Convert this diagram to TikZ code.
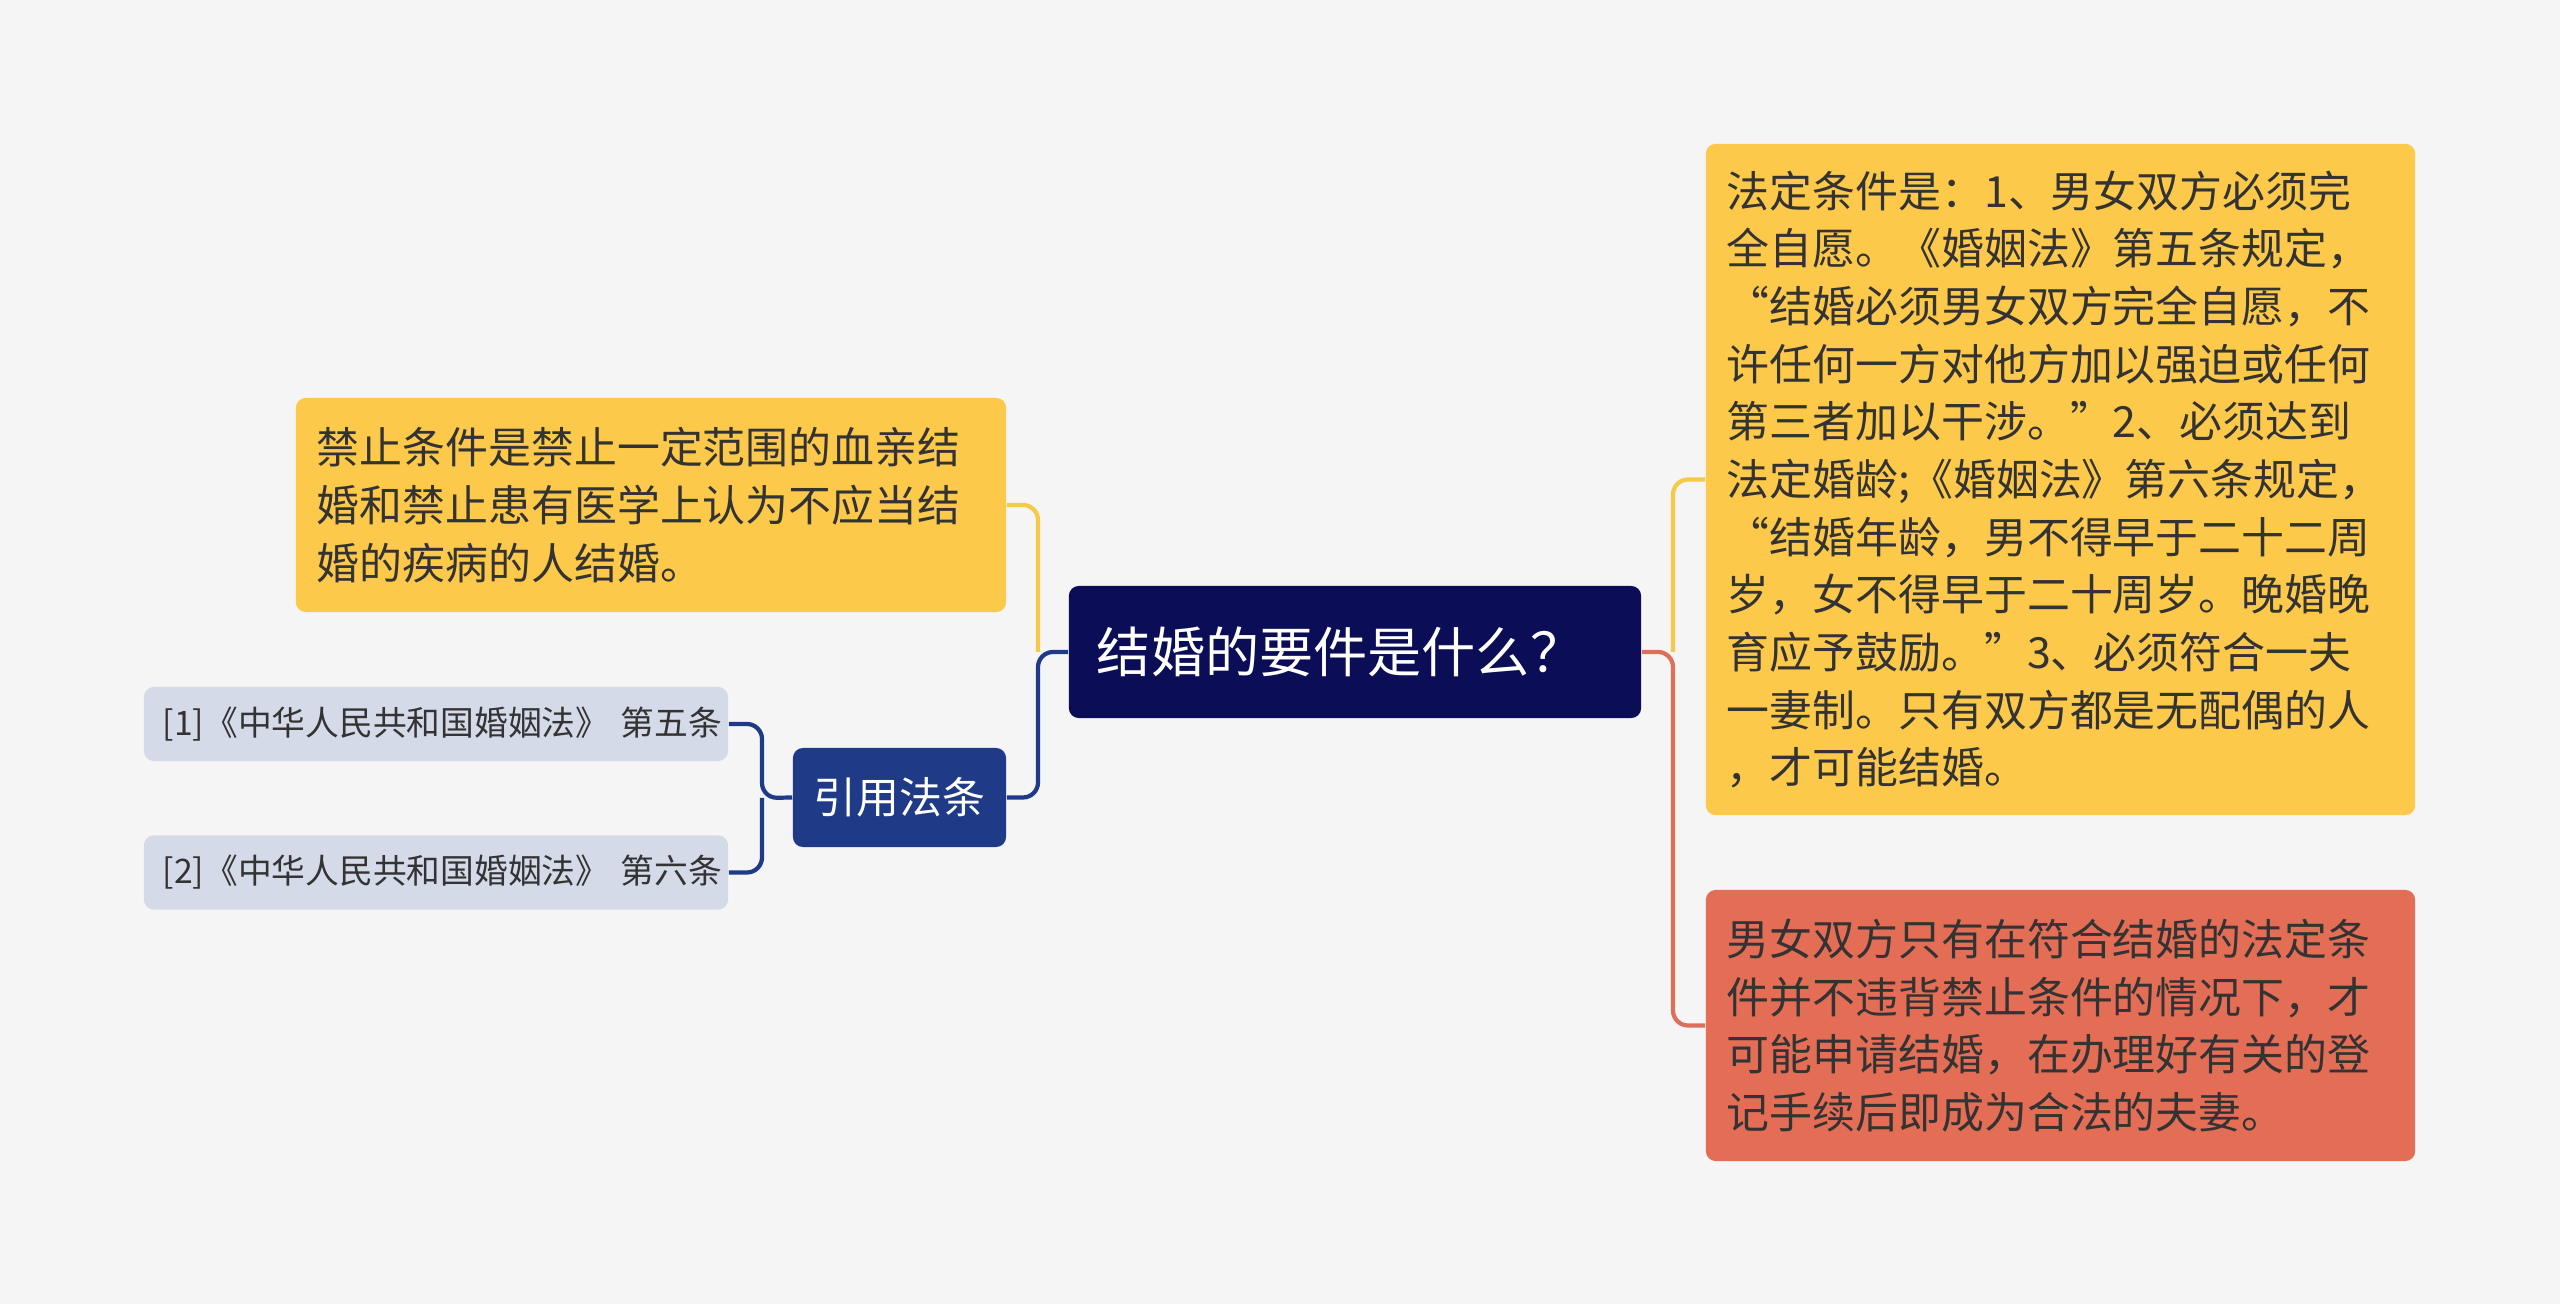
\documentclass[tikz,border=0pt]{standalone}
\usepackage{fontspec}
\setmainfont{Noto Sans CJK SC}
\usepackage{xcolor}
\usetikzlibrary{positioning,calc}

\definecolor{bgcol}{HTML}{F5F5F5}
\definecolor{rootcol}{HTML}{0B0E56}
\definecolor{yellowcol}{HTML}{FDC94B}
\definecolor{yellowline}{HTML}{F7C948}
\definecolor{navycol}{HTML}{1F3B88}
\definecolor{leafcol}{HTML}{D5DAE9}
\definecolor{redcol}{HTML}{E46D56}
\definecolor{redline}{HTML}{DE6F5B}
\definecolor{textcol}{HTML}{333333}

\begin{document}
\begin{tikzpicture}[x=0.01cm, y=-0.01cm,
  topic/.style={rounded corners=0.1cm, inner ysep=0pt, align=left},
  bigtext/.style={font=\fontsize{12.2}{16.4}\selectfont, text=textcol},
  yellowbox/.style={topic, bigtext, fill=yellowcol, inner xsep=0.21cm, text width=6.67cm},
  leafbox/.style={topic, fill=leafcol, inner xsep=0.19cm, text width=5.46cm, minimum height=0.74cm,
    font=\fontsize{9.6}{12}\selectfont, text=textcol},
  link/.style={line width=1.2pt, rounded corners=0.15cm}
]
\fill[bgcol] (0,0) rectangle (2560,1304);
\useasboundingbox (0,0) rectangle (2560,1304);

% main topic
\node[topic, fill=rootcol, text=white, inner xsep=0.28cm, text width=5.16cm, minimum height=1.32cm,
  font=\fontsize{15.4}{18}\selectfont] (root) at (1355,652) {结婚的要件是什么？};

% left side
\node[yellowbox, minimum height=2.14cm, text width=6.68cm] (ban) at (651,505)
  {禁止条件是禁止一定范围的血亲结\\婚和禁止患有医学上认为不应当结\\婚的疾病的人结婚。};
\node[topic, fill=navycol, text=white, align=center, minimum width=2.13cm, minimum height=0.99cm,
  font=\fontsize{12.2}{14}\selectfont] (cite) at (899.5,797.5) {引用法条};
\node[leafbox] (law1) at (436,724) {\makebox[\linewidth][l]{[1]《中华人民共和国婚姻法》\ 第五条}};
\node[leafbox] (law2) at (436,872.5) {\makebox[\linewidth][l]{[2]《中华人民共和国婚姻法》\ 第六条}};

% right side
\node[yellowbox, minimum height=6.71cm] (legal) at (2060.5,479.5)
  {法定条件是：1、男女双方必须完\\全自愿。《婚姻法》第五条规定，\\“结婚必须男女双方完全自愿，不\\许任何一方对他方加以强迫或任何\\第三者加以干涉。”2、必须达到\\法定婚龄;《婚姻法》第六条规定，\\“结婚年龄，男不得早于二十二周\\岁，女不得早于二十周岁。晚婚晚\\育应予鼓励。”3、必须符合一夫\\一妻制。只有双方都是无配偶的人\\，才可能结婚。};
\node[yellowbox, fill=redcol, minimum height=2.71cm] (valid) at (2060.5,1025.5)
  {男女双方只有在符合结婚的法定条\\件并不违背禁止条件的情况下，才\\可能申请结婚，在办理好有关的登\\记手续后即成为合法的夫妻。};

\coordinate (jl) at (1038,652);
\coordinate (jr) at (1673,652);
\coordinate (jc) at (762,798);

\draw[link, yellowline] (ban.east) -| (jl);
\draw[link, navycol] (cite.east) -| (jl) -- (root.west);
\draw[link, redline] (root.east) -- (jr) |- (valid.west);
\draw[link, yellowline] (jr) |- (legal.west);
\draw[link, navycol] (cite.west) -- (jc) |- (law1.east);
\draw[link, navycol] (jc) |- (law2.east);
\end{tikzpicture}
\end{document}
